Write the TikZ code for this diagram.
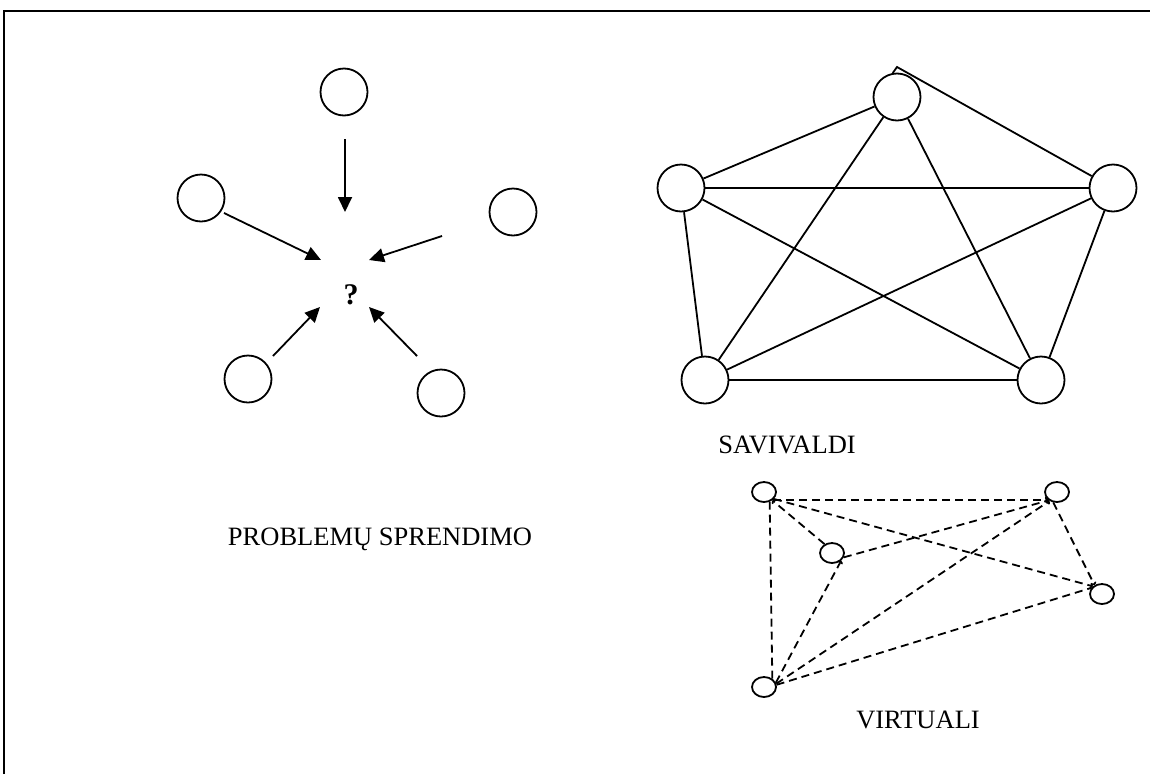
\documentclass[tikz,border=0pt]{standalone}
\usepackage{fontspec}
\setmainfont{Liberation Serif}
\usetikzlibrary{arrows.meta,shapes.geometric}
\begin{document}
\begin{tikzpicture}[x=1pt,y=-1pt,
  circ/.style={circle,draw,line width=1.8pt,minimum size=47pt,inner sep=0pt},
  oval/.style={ellipse,draw,line width=1.8pt,minimum width=24pt,minimum height=20pt,inner sep=0pt},
  arr/.style={line width=1.8pt,-{Triangle[length=15pt,width=14pt]}},
  link/.style={line width=1.8pt},
  vlink/.style={line width=1.8pt,dash pattern=on 8pt off 5pt},
  vtip/.style={-{To[length=3pt,width=6pt]}},
  lbl/.style={font=\fontsize{26.5}{30}\selectfont,inner sep=0pt,anchor=base}]
\useasboundingbox (0,0) rectangle (1150,774);
% frame
\draw[line width=2.2pt] (4,774) -- (4,11) -- (1150,11);

% --- problem-solving group ---
\node[circ] (p1) at (344,92) {};
\node[circ] (p2) at (201,198) {};
\node[circ] (p3) at (513,212) {};
\node[circ] (p4) at (248,379) {};
\node[circ] (p5) at (441,393) {};
\node[font=\bfseries\fontsize{30}{30}\selectfont,inner sep=0pt] (q) at (351,295) {?};

\coordinate (a1s) at (345,139); \coordinate (a1e) at (345,212);
\coordinate (a2s) at (224,213); \coordinate (a2e) at (321,260);
\coordinate (a3s) at (442,236); \coordinate (a3e) at (369,260);
\coordinate (a4s) at (273,356); \coordinate (a4e) at (320,307);
\coordinate (a5s) at (417,356); \coordinate (a5e) at (369,307);
\draw[arr] (a1s) -- (a1e);
\draw[arr] (a2s) -- (a2e);
\draw[arr] (a3s) -- (a3e);
\draw[arr] (a4s) -- (a4e);
\draw[arr] (a5s) -- (a5e);

\node[lbl] (t1) at (380,545) {PROBLEMŲ SPRENDIMO};

% --- self-managed group: complete graph on five nodes ---
\node[circ] (s1) at (897,97) {};
\node[circ] (s2) at (681,188) {};
\node[circ] (s3) at (1113,188) {};
\node[circ] (s4) at (705,380) {};
\node[circ] (s5) at (1041,380) {};
\coordinate (apex) at (897,67);
\draw[link] (s1.100) -- (apex) -- (s3);
\draw[link] (s1) -- (s2);
\draw[link] (s1) -- (s4);
\draw[link] (s1) -- (s5);
\draw[link] (s2) -- (s3);
\draw[link] (s2) -- (s4);
\draw[link] (s2) -- (s5);
\draw[link] (s3) -- (s4);
\draw[link] (s3) -- (s5);
\draw[link] (s4) -- (s5);

\node[lbl] (t2) at (787,453) {SAVIVALDI};

% --- virtual group ---
\node[oval] (v1) at (764,492) {};
\node[oval] (v2) at (1057,492) {};
\node[oval] (v3) at (832,553) {};
\node[oval] (v4) at (1102,594) {};
\node[oval] (v5) at (764,687) {};
\draw[vlink,vtip] (v1.-40) -- (v2.-140);
\draw[vlink,vtip] (v3.130) -- (v1.-45);
\draw[vlink,vtip] (v1.-35) -- (v4.140);
\draw[vlink] (v5.45) -- (v1.-60);
\draw[vlink,vtip] (v3.-20) -- (v2.-135);
\draw[vlink,vtip] (v5.20) -- (v3.-40);
\draw[vlink,vtip] (v5.15) -- (v2.-130);
\draw[vlink] (v5.10) -- (v4.150);
\draw[vlink,vtip] (v2.-110) -- (v4.130);

\node[lbl] (t3) at (918,728) {VIRTUALI};
\end{tikzpicture}
\end{document}
